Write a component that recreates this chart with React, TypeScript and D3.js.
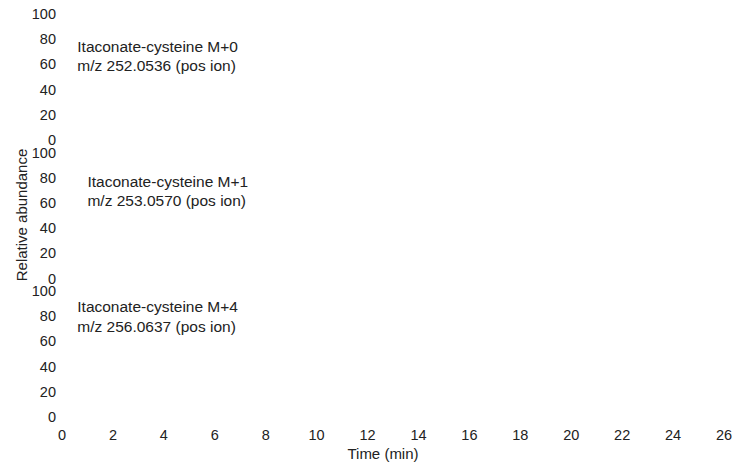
import React from 'react';
import * as d3 from 'd3';

// constants
const width = 747;
const height = 468;
const font = '"Liberation Sans", Arial, Helvetica, sans-serif';

// data
const compounds = ['Itaconate-cysteine M+0', 'Itaconate-cysteine M+1', 'Itaconate-cysteine M+4'];
const ions = ['m/z 252.0536 (pos ion)', 'm/z 253.0570 (pos ion)', 'm/z 256.0637 (pos ion)'];
const timeTicks = [0, 2, 4, 6, 8, 10, 12, 14, 16, 18, 20, 22, 24, 26];
const abundanceTicks = [0, 20, 40, 60, 80, 100];
// label anchor in data units (time, abundance) for each panel
const labelTime = [0.6, 1.0, 0.6];
const labelAbundance = [70, 73, 83];

// layout
const panelTop = 14;
const panelStep = 138.5;
const panelHeight = 126;

const App = () => {
  const xScale = d3.scaleLinear().domain([0, 26]).range([62, 724]);

  const yScaleFor = (i: number) =>
    d3.scaleLinear()
      .domain([0, 100])
      .range([panelTop + i * panelStep + panelHeight, panelTop + i * panelStep]);

  return (
    <svg width={width} height={height} style={{ position: 'absolute', left: 0, top: 0, background: '#fff' }}
      fontFamily={font} fill="#222">
      {compounds.map((name, i) => {
        const y = yScaleFor(i);
        return (
          <g key={name}>
            {abundanceTicks.map(t => (
              <text key={t} x={56} y={y(t)} textAnchor="end" dominantBaseline="central" fontSize={14.5}>{t}</text>
            ))}
            <text x={xScale(labelTime[i])} y={y(labelAbundance[i])} fontSize={15.5}>{name}</text>
            <text x={xScale(labelTime[i])} y={y(labelAbundance[i]) + 19.5} fontSize={15.5}>{ions[i]}</text>
          </g>
        );
      })}
      {timeTicks.map(t => (
        <text key={t} x={xScale(t)} y={440} textAnchor="middle" fontSize={14.5}>{t}</text>
      ))}
      <text x={383} y={459} textAnchor="middle" fontSize={15}>Time (min)</text>
      <text transform="translate(27,215) rotate(-90)" textAnchor="middle" fontSize={15}>Relative abundance</text>
    </svg>
  );
};

export default App;
